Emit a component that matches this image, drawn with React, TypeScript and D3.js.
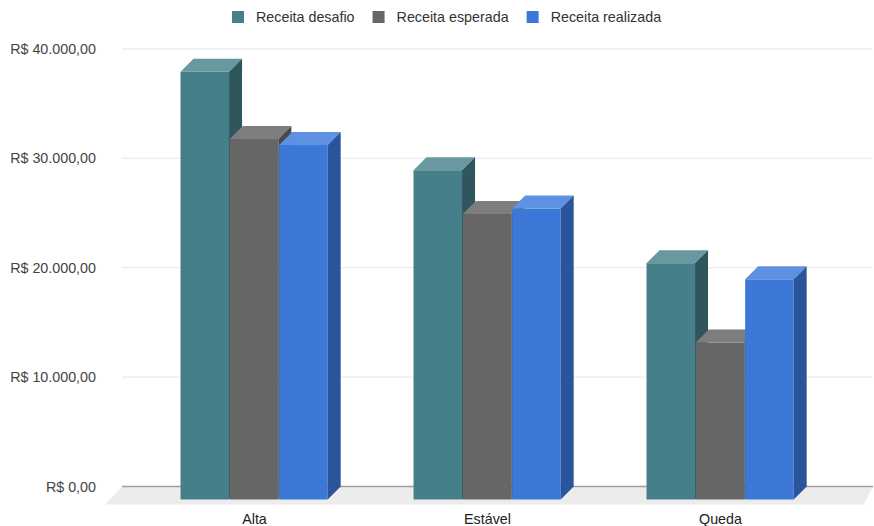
import React, { useEffect, useRef } from "react";
import * as d3 from "d3";

const categories = ["Alta", "Estável", "Queda"];
const seriesNames = ["Receita desafio", "Receita esperada", "Receita realizada"];
const desafio = [39100, 30100, 21600];
const esperada = [32950, 26100, 14350];
const realizada = [32400, 26600, 20130];
const yTicks = [0, 10000, 20000, 30000, 40000];

const seriesValues = [desafio, esperada, realizada];
const faceColors = [
  { front: "#45808a", top: "#6a98a1", side: "#2f565d" },
  { front: "#666666", top: "#7e7e7e", side: "#494949" },
  { front: "#3c78d8", top: "#5f91e2", side: "#2a549b" },
];

const W = 874;
const H = 526;
const FONT = "'Liberation Sans', Arial, sans-serif";
const FS = 14.3;

export default function App() {
  const ref = useRef<SVGSVGElement | null>(null);

  useEffect(() => {
    const svg = d3.select(ref.current);
    svg.selectAll("*").remove();

    // back wall extent and bar depth vector (front -> back)
    const backLeft = 122;
    const backRight = 873;
    const depthX = 13;
    const depthY = 13;
    const floorDepthL = { x: -17, y: 18 };
    const floorDepthR = { x: -9, y: 18 };

    const y = d3.scaleLinear().domain([0, 40000]).range([486.5, 48.9]);

    // category bands measured on the bars' front faces
    const x = d3
      .scaleBand<string>()
      .domain(categories)
      .range([138, 837])
      .paddingInner(0.365)
      .paddingOuter(0.1825);
    const xs = d3.scaleBand<string>().domain(seriesNames).range([0, x.bandwidth()]);

    const fmt = d3.formatLocale({
      decimal: ",",
      thousands: ".",
      grouping: [3],
      currency: ["R$ ", ""],
    });
    const money = fmt.format("$,.2f");

    // floor
    const y0 = y(0);
    svg
      .append("polygon")
      .attr(
        "points",
        [
          [backLeft, y0],
          [backRight, y0],
          [backRight + floorDepthR.x, y0 + floorDepthR.y],
          [backLeft + floorDepthL.x, y0 + floorDepthL.y],
        ]
          .map((p) => p.join(","))
          .join(" ")
      )
      .attr("fill", "#ececec");

    // gridlines on the back wall
    svg
      .append("g")
      .selectAll("line")
      .data(yTicks)
      .join("line")
      .attr("x1", backLeft)
      .attr("x2", backRight)
      .attr("y1", (d) => y(d))
      .attr("y2", (d) => y(d))
      .attr("stroke", (d) => (d === 0 ? "#9e9e9e" : "#e6e6e6"))
      .attr("stroke-width", (d) => (d === 0 ? 1.5 : 1));

    // y labels
    svg
      .append("g")
      .selectAll("text")
      .data(yTicks)
      .join("text")
      .attr("x", 96)
      .attr("y", (d) => y(d))
      .attr("dy", "0.35em")
      .attr("text-anchor", "end")
      .attr("font-family", FONT)
      .attr("font-size", FS)
      .attr("fill", "#444")
      .text((d) => money(d));

    // bars
    const bars = svg.append("g");
    categories.forEach((cat, ci) => {
      seriesNames.forEach((s, si) => {
        const v = seriesValues[si][ci];
        const c = faceColors[si];
        const xf = (x(cat) ?? 0) + (xs(s) ?? 0);
        const w = xs.bandwidth() - 0.8;
        const yt = y(v) + depthY;
        const yb = y(0) + depthY;
        const g = bars.append("g");
        g.append("rect")
          .attr("x", xf)
          .attr("y", yt)
          .attr("width", w)
          .attr("height", yb - yt)
          .attr("fill", c.front);
        g.append("polygon")
          .attr(
            "points",
            [
              [xf, yt],
              [xf + depthX, yt - depthY],
              [xf + w + depthX, yt - depthY],
              [xf + w, yt],
            ]
              .map((p) => p.join(","))
              .join(" ")
          )
          .attr("fill", c.top);
        g.append("polygon")
          .attr(
            "points",
            [
              [xf + w, yt],
              [xf + w + depthX, yt - depthY],
              [xf + w + depthX, yb - depthY],
              [xf + w, yb],
            ]
              .map((p) => p.join(","))
              .join(" ")
          )
          .attr("fill", c.side);
      });
    });

    // category labels
    svg
      .append("g")
      .selectAll("text")
      .data(categories)
      .join("text")
      .attr("x", (d) => (x(d) ?? 0) + x.bandwidth() / 2)
      .attr("y", 519)
      .attr("dy", "0.35em")
      .attr("text-anchor", "middle")
      .attr("font-family", FONT)
      .attr("font-size", FS)
      .attr("fill", "#222")
      .text((d) => d);

    // legend
    const legend = svg.append("g");
    let lx = 232;
    seriesNames.forEach((s, i) => {
      legend
        .append("rect")
        .attr("x", lx)
        .attr("y", 11)
        .attr("width", 12)
        .attr("height", 12)
        .attr("fill", faceColors[i].front);
      const t = legend
        .append("text")
        .attr("x", lx + 24)
        .attr("y", 17)
        .attr("dy", "0.35em")
        .attr("font-family", FONT)
        .attr("font-size", FS)
        .attr("fill", "#333")
        .text(s);
      const tw = (t.node() as SVGTextElement).getComputedTextLength();
      lx += 24 + tw + 18;
    });
  }, []);

  return (
    <div style={{ position: "absolute", left: 0, top: 0 }}>
      <svg ref={ref} width={W} height={H} style={{ display: "block", background: "#fff" }} />
    </div>
  );
}
